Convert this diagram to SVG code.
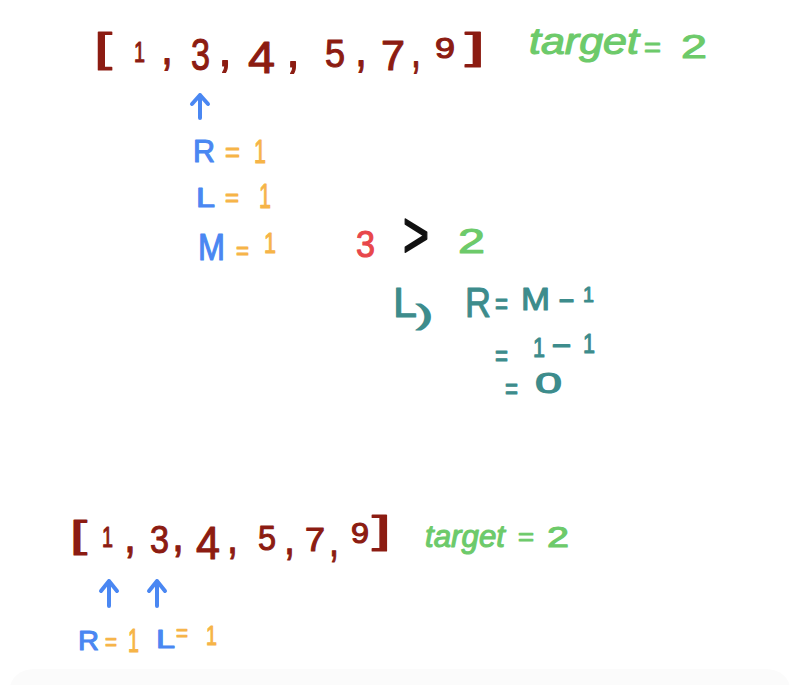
<svg xmlns="http://www.w3.org/2000/svg" width="800" height="685" viewBox="0 0 800 685">
<style>
text{font-family:"Liberation Sans",Arial,sans-serif;stroke-width:1.1;stroke-linejoin:round;stroke-linecap:round}
.red{fill:#8c1c12;stroke:#8c1c12}
.blue{fill:#4a87f2;stroke:#4a87f2}
.orange{fill:#f6b447;stroke:#f6b447}
.green{fill:#6dca6a;stroke:#6dca6a}
.pink{fill:#e8474b;stroke:#e8474b}
.teal{fill:#3d8c8c;stroke:#3d8c8c}
.black{fill:#111;stroke:#111}
.arrow{fill:none;stroke:#4a87f2;stroke-width:4;stroke-linecap:round;stroke-linejoin:round}
</style>
<rect width="800" height="685" fill="#ffffff"/>
<rect x="10" y="669" width="780" height="40" rx="24" fill="#fbfbfb"/>

<g id="array-top" class="red">
<text x="94" y="62" font-size="40" textLength="18" lengthAdjust="spacingAndGlyphs">[</text>
<text x="134" y="62" font-size="29" textLength="11" lengthAdjust="spacingAndGlyphs">1</text>
<text x="161" y="64" font-size="50" textLength="12" lengthAdjust="spacingAndGlyphs">,</text>
<text x="191" y="70" font-size="44" textLength="19" lengthAdjust="spacingAndGlyphs">3</text>
<text x="218" y="66" font-size="50" textLength="14" lengthAdjust="spacingAndGlyphs">,</text>
<text x="248" y="73" font-size="45" textLength="27" lengthAdjust="spacingAndGlyphs">4</text>
<text x="286" y="67" font-size="50" textLength="14" lengthAdjust="spacingAndGlyphs">,</text>
<text x="325" y="67" font-size="38" textLength="20" lengthAdjust="spacingAndGlyphs">5</text>
<text x="355" y="66" font-size="50" textLength="12" lengthAdjust="spacingAndGlyphs">,</text>
<text x="381" y="70" font-size="42" textLength="24" lengthAdjust="spacingAndGlyphs">7</text>
<text x="411" y="67" font-size="50" textLength="10" lengthAdjust="spacingAndGlyphs">,</text>
<text x="435" y="58" font-size="29" textLength="20" lengthAdjust="spacingAndGlyphs">9</text>
<text x="465" y="59" font-size="36" textLength="20" lengthAdjust="spacingAndGlyphs">]</text>
</g>

<g id="target-top" class="green">
<text x="529" y="54" font-size="36" font-style="italic" textLength="110" lengthAdjust="spacingAndGlyphs">target</text>
<text x="644" y="57" font-size="28" textLength="17" lengthAdjust="spacingAndGlyphs">=</text>
<text x="681" y="58" font-size="34" textLength="26" lengthAdjust="spacingAndGlyphs">2</text>
</g>

<g id="connectors">
<path class="arrow" d="M200 118 L200 95 M192 104 L200 95 L208 104"/>
<path class="arrow" d="M109 606 L109 581 M101 591 L109 581 L117 591"/>
<path class="arrow" d="M157 606 L157 581 M149 591 L157 581 L165 591"/>
</g>

<g id="vars-top">
<text class="blue" x="193" y="162" font-size="31" textLength="22" lengthAdjust="spacingAndGlyphs">R</text>
<text class="orange" x="225" y="162" font-size="28" textLength="15" lengthAdjust="spacingAndGlyphs">=</text>
<text class="orange" x="254" y="163" font-size="34" textLength="12" lengthAdjust="spacingAndGlyphs">1</text>
<text class="blue" x="196" y="207" font-size="28" textLength="19" lengthAdjust="spacingAndGlyphs">L</text>
<text class="orange" x="225" y="206" font-size="26" textLength="14" lengthAdjust="spacingAndGlyphs">=</text>
<text class="orange" x="259" y="208" font-size="35" textLength="12" lengthAdjust="spacingAndGlyphs">1</text>
<text class="blue" x="198" y="260" font-size="37" textLength="27" lengthAdjust="spacingAndGlyphs">M</text>
<text class="orange" x="236" y="259" font-size="26" textLength="13" lengthAdjust="spacingAndGlyphs">=</text>
<text class="orange" x="264" y="253" font-size="29" textLength="12" lengthAdjust="spacingAndGlyphs">1</text>
</g>

<g id="compare">
<text class="pink" x="356" y="257" font-size="37" textLength="19" lengthAdjust="spacingAndGlyphs">3</text>
<text class="black" transform="translate(403 257) scale(1 1.6)" x="0" y="0" font-size="40" textLength="26" lengthAdjust="spacingAndGlyphs">&gt;</text>
<text class="green" x="458" y="253" font-size="35" textLength="27" lengthAdjust="spacingAndGlyphs">2</text>
</g>

<g id="update" class="teal">
<text x="393" y="317" font-size="42" textLength="24" lengthAdjust="spacingAndGlyphs">L</text>
<text x="416" y="324" font-size="27" textLength="17" lengthAdjust="spacingAndGlyphs">)</text>
<text x="465" y="317" font-size="42" textLength="26" lengthAdjust="spacingAndGlyphs">R</text>
<text x="495" y="314" font-size="30" textLength="13" lengthAdjust="spacingAndGlyphs">=</text>
<text x="521" y="310" font-size="31" textLength="29" lengthAdjust="spacingAndGlyphs">M</text>
<text x="558" y="309" font-size="31" textLength="17" lengthAdjust="spacingAndGlyphs">-</text>
<text x="583" y="302" font-size="22" textLength="11" lengthAdjust="spacingAndGlyphs">1</text>
<text x="495" y="366" font-size="30" textLength="13" lengthAdjust="spacingAndGlyphs">=</text>
<text x="533" y="357" font-size="28" textLength="12" lengthAdjust="spacingAndGlyphs">1</text>
<text x="551" y="354" font-size="30" textLength="21" lengthAdjust="spacingAndGlyphs">-</text>
<text x="583" y="353" font-size="28" textLength="12" lengthAdjust="spacingAndGlyphs">1</text>
<text x="505" y="399" font-size="30" textLength="13" lengthAdjust="spacingAndGlyphs">=</text>
<text x="535" y="393" font-size="29" textLength="27" lengthAdjust="spacingAndGlyphs">0</text>
</g>

<g id="array-bottom" class="red">
<text x="70" y="547" font-size="37" textLength="17" lengthAdjust="spacingAndGlyphs">[</text>
<text x="102" y="547" font-size="29" textLength="11" lengthAdjust="spacingAndGlyphs">1</text>
<text x="124" y="552" font-size="48" textLength="12" lengthAdjust="spacingAndGlyphs">,</text>
<text x="150" y="553" font-size="39" textLength="19" lengthAdjust="spacingAndGlyphs">3</text>
<text x="172" y="551" font-size="48" textLength="12" lengthAdjust="spacingAndGlyphs">,</text>
<text x="196" y="559" font-size="46" textLength="24" lengthAdjust="spacingAndGlyphs">4</text>
<text x="227" y="553" font-size="48" textLength="11" lengthAdjust="spacingAndGlyphs">,</text>
<text x="258" y="550" font-size="35" textLength="18" lengthAdjust="spacingAndGlyphs">5</text>
<text x="284" y="554" font-size="48" textLength="11" lengthAdjust="spacingAndGlyphs">,</text>
<text x="305" y="551" font-size="33" textLength="20" lengthAdjust="spacingAndGlyphs">7</text>
<text x="329" y="556" font-size="48" textLength="10" lengthAdjust="spacingAndGlyphs">,</text>
<text x="351" y="543" font-size="29" textLength="18" lengthAdjust="spacingAndGlyphs">9</text>
<text x="372" y="543" font-size="39" textLength="19" lengthAdjust="spacingAndGlyphs">]</text>
</g>

<g id="target-bottom" class="green">
<text x="425" y="547" font-size="31" font-style="italic" textLength="80" lengthAdjust="spacingAndGlyphs">target</text>
<text x="518" y="545" font-size="24" textLength="16" lengthAdjust="spacingAndGlyphs">=</text>
<text x="547" y="547" font-size="29" textLength="22" lengthAdjust="spacingAndGlyphs">2</text>
</g>

<g id="vars-bottom">
<text class="blue" x="78" y="650" font-size="28" textLength="21" lengthAdjust="spacingAndGlyphs">R</text>
<text class="orange" x="105" y="650" font-size="24" textLength="12" lengthAdjust="spacingAndGlyphs">=</text>
<text class="orange" x="128" y="652" font-size="33" textLength="11" lengthAdjust="spacingAndGlyphs">1</text>
<text class="blue" x="156" y="648" font-size="26" textLength="19" lengthAdjust="spacingAndGlyphs">L</text>
<text class="orange" x="176" y="641" font-size="24" textLength="12" lengthAdjust="spacingAndGlyphs">=</text>
<text class="orange" x="206" y="645" font-size="28" textLength="11" lengthAdjust="spacingAndGlyphs">1</text>
</g>
</svg>
